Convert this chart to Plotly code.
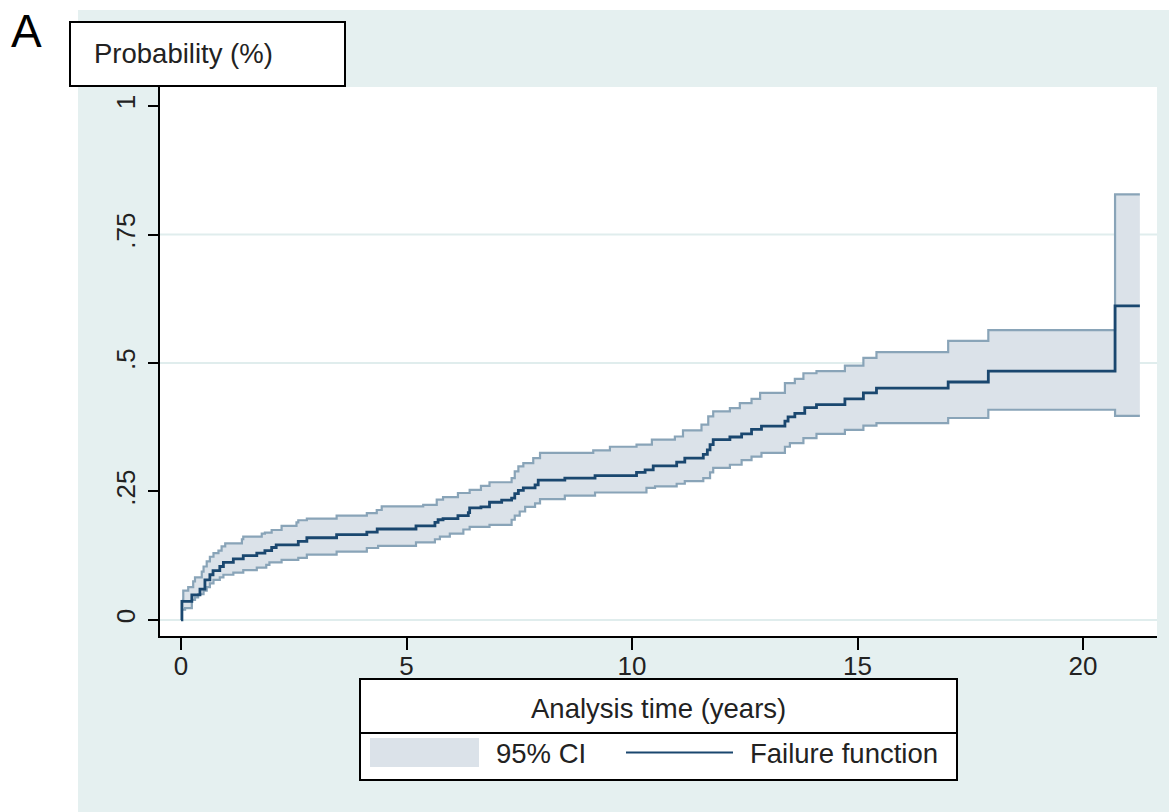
import plotly.graph_objects as go

# ---------------- data ----------------
FAIL_T = [0, 0.02, 0.24, 0.42, 0.53, 0.64, 0.71, 0.86, 0.94, 1.16, 1.38, 1.68, 1.86, 2.01, 2.11,
          2.60, 2.79, 3.45, 4.12, 4.35, 5.21, 5.63, 5.70, 5.81, 6.14, 6.37, 6.40, 6.65, 6.84, 7.11,
          7.33, 7.40, 7.48, 7.59, 7.85, 7.92, 8.51, 9.18, 10.1, 10.29, 10.47, 10.99, 11.17, 11.58,
          11.67, 11.73, 11.80, 12.17, 12.43, 12.65, 12.87, 13.39, 13.46, 13.61, 13.83, 14.09, 14.72,
          15.13, 15.42, 17.01, 17.90, 20.71]
FAIL_P = [0, 0.036, 0.049, 0.060, 0.078, 0.088, 0.096, 0.104, 0.112, 0.119, 0.125, 0.130, 0.135,
          0.141, 0.146, 0.153, 0.160, 0.166, 0.171, 0.177, 0.183, 0.190, 0.195, 0.197, 0.203, 0.209,
          0.218, 0.220, 0.229, 0.233, 0.237, 0.246, 0.252, 0.257, 0.263, 0.272, 0.276, 0.281, 0.287,
          0.292, 0.300, 0.307, 0.315, 0.322, 0.331, 0.341, 0.351, 0.356, 0.362, 0.371, 0.377, 0.387,
          0.395, 0.402, 0.413, 0.419, 0.430, 0.442, 0.451, 0.463, 0.484, 0.611]

UP_T = [0.02, 0.05, 0.16, 0.27, 0.31, 0.46, 0.50, 0.57, 0.64, 0.72, 0.83, 0.90, 0.98, 1.35, 1.38,
        1.79, 1.86, 2.01, 2.23, 2.56, 2.60, 2.79, 3.45, 4.12, 4.34, 4.45, 5.37, 5.67, 5.81, 6.14,
        6.40, 6.65, 6.84, 7.33, 7.40, 7.48, 7.59, 7.81, 7.96, 9.14, 9.51, 10.1, 10.44, 10.95, 11.13,
        11.54, 11.69, 11.80, 12.17, 12.39, 12.65, 12.84, 13.39, 13.61, 13.80, 14.09, 14.72, 15.13,
        15.42, 17.01, 17.90, 20.71]
UP_P = [0.039, 0.057, 0.064, 0.075, 0.083, 0.094, 0.104, 0.114, 0.123, 0.130, 0.135, 0.143, 0.149,
        0.157, 0.162, 0.168, 0.170, 0.175, 0.183, 0.190, 0.194, 0.197, 0.203, 0.208, 0.214, 0.221,
        0.224, 0.234, 0.239, 0.247, 0.253, 0.261, 0.268, 0.276, 0.289, 0.299, 0.305, 0.315, 0.325,
        0.330, 0.337, 0.341, 0.351, 0.357, 0.369, 0.380, 0.396, 0.406, 0.412, 0.422, 0.430, 0.442,
        0.461, 0.469, 0.480, 0.484, 0.495, 0.510, 0.521, 0.543, 0.564, 0.828]

LO_T = [0.02, 0.09, 0.24, 0.31, 0.38, 0.50, 0.57, 0.64, 0.72, 0.86, 0.94, 1.16, 1.38, 1.68, 1.89,
        1.96, 2.23, 2.60, 2.79, 3.45, 4.12, 4.37, 5.21, 5.63, 5.74, 5.96, 6.26, 6.40, 6.84, 7.33,
        7.40, 7.51, 7.63, 7.85, 7.96, 8.51, 9.18, 10.32, 10.51, 10.99, 11.17, 11.58, 11.73, 11.80,
        12.17, 12.43, 12.65, 12.87, 13.39, 13.50, 13.80, 14.09, 14.72, 15.13, 15.42, 17.01, 17.90,
        20.71]
LO_P = [0.020, 0.023, 0.039, 0.044, 0.050, 0.057, 0.064, 0.071, 0.078, 0.083, 0.088, 0.092, 0.097,
        0.102, 0.107, 0.112, 0.117, 0.121, 0.127, 0.133, 0.140, 0.144, 0.151, 0.157, 0.162, 0.168,
        0.176, 0.181, 0.185, 0.195, 0.203, 0.211, 0.220, 0.227, 0.235, 0.242, 0.248, 0.257, 0.260,
        0.265, 0.270, 0.276, 0.287, 0.296, 0.302, 0.311, 0.318, 0.325, 0.337, 0.344, 0.354, 0.362,
        0.370, 0.378, 0.383, 0.393, 0.409, 0.397]

END_T = 21.26

X_TICKS = [0, 5, 10, 15, 20]
Y_TICKS = [0, 0.25, 0.5, 0.75, 1]
Y_TICK_TEXT = ["0", ".25", ".5", ".75", "1"]
GRID_Y = [0, 0.5, 0.75]

TITLE_Y = "Probability (%)"
TITLE_X = "Analysis time (years)"
LEG_CI = "95% CI"
LEG_FAIL = "Failure function"
PANEL = "A"

# ---------------- styling ----------------
W, H = 1169, 812
FONT = "Liberation Sans, Arial, sans-serif"
TXT = "#222222"
BG = "#e5f0f0"
NAVY = "#1a476f"
CI_LINE = "#89a4b8"
CI_FILL = "#dbe2e9"
FS = 27.5


def px(x):
    return x / W


def py(y):
    return 1 - y / H


def step_xy(t, v, t_end):
    xs, ys = [], []
    for i in range(len(t)):
        if i > 0:
            xs.append(t[i])
            ys.append(v[i - 1])
        xs.append(t[i])
        ys.append(v[i])
    xs.append(t_end)
    ys.append(v[-1])
    return xs, ys


ux, uy = step_xy(UP_T, UP_P, END_T)
lx, ly = step_xy(LO_T, LO_P, END_T)
fx, fy = step_xy(FAIL_T, FAIL_P, END_T)

fig = go.Figure()
fig.add_trace(go.Scatter(x=ux + lx[::-1], y=uy + ly[::-1], fill="toself", fillcolor=CI_FILL,
                         mode="lines", line=dict(width=0), hoverinfo="skip", showlegend=False))
fig.add_trace(go.Scatter(x=ux, y=uy, mode="lines", line=dict(color=CI_LINE, width=2.2),
                         showlegend=False))
fig.add_trace(go.Scatter(x=lx, y=ly, mode="lines", line=dict(color=CI_LINE, width=2.2),
                         showlegend=False))
fig.add_trace(go.Scatter(x=fx, y=fy, mode="lines", line=dict(color=NAVY, width=2.8),
                         showlegend=False))

shapes = []
# white outer strips (top and left) outside the graph region
shapes.append(dict(type="rect", xref="paper", yref="paper", x0=0, x1=1, y0=py(10), y1=1,
                   fillcolor="white", line=dict(width=0), layer="below"))
shapes.append(dict(type="rect", xref="paper", yref="paper", x0=0, x1=px(78), y0=0, y1=1,
                   fillcolor="white", line=dict(width=0), layer="below"))
# gridlines
for g in GRID_Y:
    shapes.append(dict(type="line", xref="x domain", yref="y", x0=0, x1=1, y0=g, y1=g,
                       line=dict(color="#e0eded", width=2), layer="below"))
# y title box
shapes.append(dict(type="rect", xref="paper", yref="paper", x0=px(70), x1=px(345), y0=py(86),
                   y1=py(22), fillcolor="white", line=dict(color="black", width=2)))
# x title + legend box
shapes.append(dict(type="rect", xref="paper", yref="paper", x0=px(360), x1=px(957), y0=py(780),
                   y1=py(679), fillcolor="white", line=dict(color="black", width=2)))
shapes.append(dict(type="line", xref="paper", yref="paper", x0=px(360), x1=px(957), y0=py(733),
                   y1=py(733), line=dict(color="black", width=2)))
# legend keys
shapes.append(dict(type="rect", xref="paper", yref="paper", x0=px(370), x1=px(479), y0=py(767),
                   y1=py(738), fillcolor=CI_FILL, line=dict(width=0)))
shapes.append(dict(type="line", xref="paper", yref="paper", x0=px(626), x1=px(733), y0=py(752.5),
                   y1=py(752.5), line=dict(color=NAVY, width=2)))

annotations = [
    dict(text=PANEL, xref="paper", yref="paper", x=px(9), y=py(31), xanchor="left",
         yanchor="middle", showarrow=False, font=dict(family=FONT, size=46, color="black")),
    dict(text=TITLE_Y, xref="paper", yref="paper", x=px(92), y=py(53), xanchor="left",
         yanchor="middle", showarrow=False, font=dict(family=FONT, size=FS, color=TXT)),
    dict(text=TITLE_X, xref="paper", yref="paper", x=px(658), y=py(708), xanchor="center",
         yanchor="middle", showarrow=False, font=dict(family=FONT, size=FS, color=TXT)),
    dict(text=LEG_CI, xref="paper", yref="paper", x=px(494), y=py(753), xanchor="left",
         yanchor="middle", showarrow=False, font=dict(family=FONT, size=FS, color=TXT)),
    dict(text=LEG_FAIL, xref="paper", yref="paper", x=px(748), y=py(753), xanchor="left",
         yanchor="middle", showarrow=False, font=dict(family=FONT, size=FS, color=TXT)),
]

fig.update_layout(
    width=W, height=H,
    margin=dict(l=0, r=0, t=0, b=0),
    paper_bgcolor=BG, plot_bgcolor="white",
    font=dict(family=FONT, size=FS, color=TXT),
    shapes=shapes, annotations=annotations,
    showlegend=False,
    xaxis=dict(domain=[px(160), px(1157)], range=[-0.466, 21.64], tickvals=X_TICKS,
               ticks="outside", ticklen=12, tickwidth=2, tickcolor="black",
               showline=True, linecolor="black", linewidth=2, showgrid=False, zeroline=False,
               ticklabelstandoff=-6,
               tickfont=dict(family=FONT, size=26, color=TXT)),
    yaxis=dict(domain=[py(636), py(87)], range=[-0.0312, 1.037], tickvals=Y_TICKS,
               ticktext=Y_TICK_TEXT, tickangle=-90, ticks="outside", ticklen=10, tickwidth=2,
               tickcolor="black", showline=True, linecolor="black", linewidth=2, showgrid=False,
               zeroline=False, ticklabelstandoff=3,
               tickfont=dict(family=FONT, size=26, color=TXT)),
)

fig.write_html("out.html", config={"displayModeBar": False},
               post_script="document.body.style.margin='0px';")
